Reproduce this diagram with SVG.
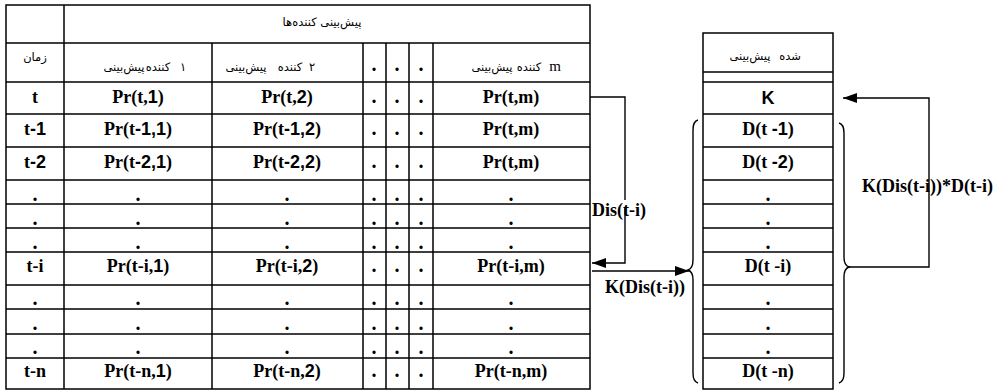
<svg xmlns="http://www.w3.org/2000/svg" width="997" height="391" viewBox="0 0 997 391">
<style>
.ln{stroke:#000;stroke-width:1.5;fill:none}
.cn{stroke:#000;stroke-width:1.4;fill:none}
.b text,.b{font-family:"Liberation Serif","Times New Roman",serif;font-weight:bold;font-size:18px;fill:#000;text-anchor:middle}
.b .s,.s{font-family:"Liberation Sans",Arial,sans-serif;font-weight:bold}
.d text{font-size:20px}
.fa text,.fa{font-family:"DejaVu Sans","Noto Sans",sans-serif;fill:#000;text-anchor:middle;font-size:11.5px}
.fa .lat{font-family:"Liberation Serif","Times New Roman",serif;font-size:15px}
.lbl{font-family:"Liberation Serif","Times New Roman",serif;font-weight:bold;font-size:18px;fill:#000}
</style>
<defs>
<marker id="ah" viewBox="0 0 14 10" refX="14" refY="5" markerWidth="14" markerHeight="10" markerUnits="userSpaceOnUse" orient="auto">
<path d="M0,0 L14,5 L0,10 z" fill="#000"/>
</marker>
</defs>
<rect width="997" height="391" fill="#fff"/>

<g id="predictors-table">
<rect class="ln" x="6" y="5" width="584" height="384"/>
<path class="ln" d="M6,43H590 M6,82H590 M6,114H590 M6,147H590 M6,180H590 M6,204H590 M6,228H590 M6,252H590 M6,285H590 M6,309H590 M6,334H590 M6,358H590"/>
<path class="ln" d="M64,5V389 M212,43V389 M363,43V389 M386,43V389 M409,43V389 M433,43V389"/>
<g class="fa">
<text x="322" y="26" font-size="10">پیش‌بینی کننده‌ها</text>
<text x="35" y="61" font-size="9.5">زمان</text>
<text x="124" y="71">پیش‌بینی</text><text x="158" y="71">کننده</text><text x="183" y="71">۱</text>
<text x="246" y="71">پیش‌بینی</text><text x="290" y="71">کننده</text><text x="312" y="71">۲</text>
<text x="492" y="71" font-size="12">پیش‌بینی</text><text x="529" y="71" font-size="12">کننده</text><text class="lat" x="555" y="71">m</text>
</g>
<g class="b">
<text x="35" y="103">t</text>
<text x="138" y="103">Pr(t,<tspan class="s">1</tspan>)</text>
<text x="287" y="103">Pr(t,<tspan class="s">2</tspan>)</text>
<text x="511" y="103">Pr(t,m)</text>
<text x="35" y="135">t<tspan class="s">-1</tspan></text>
<text x="138" y="135">Pr(t<tspan class="s">-1,1</tspan>)</text>
<text x="287" y="135">Pr(t<tspan class="s">-1,2</tspan>)</text>
<text x="511" y="135">Pr(t,m)</text>
<text x="35" y="168">t<tspan class="s">-2</tspan></text>
<text x="138" y="168">Pr(t<tspan class="s">-2,1</tspan>)</text>
<text x="287" y="168">Pr(t<tspan class="s">-2,2</tspan>)</text>
<text x="511" y="168">Pr(t,m)</text>
<text x="35" y="272">t-i</text>
<text x="138" y="272">Pr(t-i,<tspan class="s">1</tspan>)</text>
<text x="287" y="272">Pr(t-i,<tspan class="s">2</tspan>)</text>
<text x="511" y="272">Pr(t-i,m)</text>
<text x="35" y="377">t-n</text>
<text x="138" y="377">Pr(t-n,<tspan class="s">1</tspan>)</text>
<text x="287" y="377">Pr(t-n,<tspan class="s">2</tspan>)</text>
<text x="511" y="377">Pr(t-n,m)</text>
</g>
<g class="b d">
<text x="374" y="71">.</text><text x="397" y="71">.</text><text x="421" y="71">.</text>
<text x="374" y="103">.</text><text x="397" y="103">.</text><text x="421" y="103">.</text>
<text x="374" y="135">.</text><text x="397" y="135">.</text><text x="421" y="135">.</text>
<text x="374" y="168">.</text><text x="397" y="168">.</text><text x="421" y="168">.</text>
<text x="35" y="201">.</text><text x="138" y="201">.</text><text x="287" y="201">.</text><text x="374" y="201">.</text><text x="397" y="201">.</text><text x="421" y="201">.</text><text x="511" y="201">.</text>
<text x="35" y="225">.</text><text x="138" y="225">.</text><text x="287" y="225">.</text><text x="374" y="225">.</text><text x="397" y="225">.</text><text x="421" y="225">.</text><text x="511" y="225">.</text>
<text x="35" y="249">.</text><text x="138" y="249">.</text><text x="287" y="249">.</text><text x="374" y="249">.</text><text x="397" y="249">.</text><text x="421" y="249">.</text><text x="511" y="249">.</text>
<text x="374" y="272">.</text><text x="397" y="272">.</text><text x="421" y="272">.</text>
<text x="35" y="305">.</text><text x="138" y="305">.</text><text x="287" y="305">.</text><text x="374" y="305">.</text><text x="397" y="305">.</text><text x="421" y="305">.</text><text x="511" y="305">.</text>
<text x="35" y="330">.</text><text x="138" y="330">.</text><text x="287" y="330">.</text><text x="374" y="330">.</text><text x="397" y="330">.</text><text x="421" y="330">.</text><text x="511" y="330">.</text>
<text x="35" y="354">.</text><text x="138" y="354">.</text><text x="287" y="354">.</text><text x="374" y="354">.</text><text x="397" y="354">.</text><text x="421" y="354">.</text><text x="511" y="354">.</text>
<text x="374" y="377">.</text><text x="397" y="377">.</text><text x="421" y="377">.</text>
</g>
</g>

<g id="forecast-table">
<rect class="ln" x="703" y="33" width="130" height="356"/>
<path class="ln" d="M703,72H833 M703,82H833 M703,114H833 M703,147H833 M703,180H833 M703,204H833 M703,228H833 M703,252H833 M703,285H833 M703,309H833 M703,334H833 M703,358H833"/>
<g class="fa">
<text x="750" y="60" font-size="12.5">پیش‌بینی</text><text x="790" y="60" font-size="12.5">شده</text>
</g>
<g class="b">
<text class="s" x="768" y="104">K</text>
<text x="768" y="135">D(t <tspan class="s">-1</tspan>)</text>
<text x="768" y="168">D(t <tspan class="s">-2</tspan>)</text>
<text x="768" y="272">D(t -i)</text>
<text x="768" y="377">D(t -n)</text>
</g>
<g class="b d">
<text x="768" y="201">.</text><text x="768" y="225">.</text><text x="768" y="249">.</text>
<text x="768" y="305">.</text><text x="768" y="330">.</text><text x="768" y="354">.</text>
</g>
</g>

<g id="connectors">
<path class="cn" d="M590,97H625V200"/>
<path class="cn" d="M625,208V263H592" marker-end="url(#ah)"/>
<text class="lbl" x="592" y="216">Dis(t-i)</text>
<path class="cn" d="M592,271H689" marker-end="url(#ah)"/>
<text class="lbl" x="605" y="293">K(Dis(t-i))</text>
<path class="cn" d="M698,120C694,121 693,124 693,130V260C693,266 691,269 688,270C691,271 693,274 693,280V373C693,379 694,382 698,383"/>
<path class="cn" d="M839,123C843,124 844,127 844,133V257C844,263 846,266 849,267C846,268 844,271 844,277V373C844,379 843,382 839,383"/>
<path class="cn" d="M849,267H929V98H843" marker-end="url(#ah)"/>
<text class="lbl" x="862" y="192">K(Dis(t-i))*D(t-i)</text>
</g>
</svg>
